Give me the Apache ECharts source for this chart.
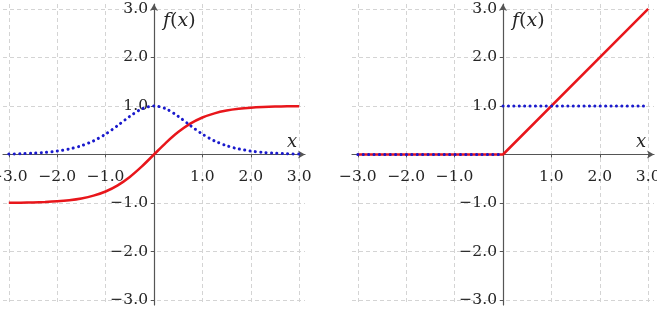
<!DOCTYPE html>
<html>
<head>
<meta charset="utf-8">
<script src="https://cdn.jsdelivr.net/npm/echarts@6/dist/echarts.min.js"></script>
<style>
  html, body { margin: 0; padding: 0; background: #fff; }
  #main { width: 657px; height: 314px; }
</style>
</head>
<body>
<div id="main"></div>
<script>
// tick positions on both axes, labels skip the origin
const tickValues = [-3, -2, -1, 0, 1, 2, 3];
const labelValues = [-3, -2, -1, 1, 2, 3];

// left panel: tanh and its derivative
const tanhX = [-3, -2.75, -2.5, -2.25, -2, -1.75, -1.5, -1.25, -1, -0.75, -0.5, -0.25, 0,
  0.25, 0.5, 0.75, 1, 1.25, 1.5, 1.75, 2, 2.25, 2.5, 2.75, 3];
const tanhY = [-0.995, -0.992, -0.987, -0.978, -0.964, -0.941, -0.905, -0.848, -0.762, -0.635, -0.462, -0.245, 0,
  0.245, 0.462, 0.635, 0.762, 0.848, 0.905, 0.941, 0.964, 0.978, 0.987, 0.992, 0.995];
const tanhGradY = [0.01, 0.016, 0.027, 0.043, 0.071, 0.115, 0.181, 0.281, 0.42, 0.597, 0.786, 0.94, 1,
  0.94, 0.786, 0.597, 0.42, 0.281, 0.181, 0.115, 0.071, 0.043, 0.027, 0.016, 0.01];

// right panel: ReLU and its derivative
const reluX = [-3, 0, 3];
const reluY = [0, 0, 3];
const reluGradX = [-3, 0, 0, 0, 3];
const reluGradY = [0, 0, null, 1, 1];

const font = 'DejaVu Serif';
const axisColor = '#555';
const textColor = '#262626';
const red = '#e8161b';
const blue = '#1a1acc';

const gridW = 302, gridH = 301;

const fmt = v => (v < 0 ? '\u2212' : '') + Math.abs(v).toFixed(1);
const zip = (xs, ys) => xs.map((x, i) => [x, ys[i]]);

function xAxisFor(gi) {
  return {
    type: 'value', gridIndex: gi, min: -3.12, max: 3.12,
    position: 'bottom', offset: -gridH / 2,
    name: 'x', nameLocation: 'end', nameGap: -13,
    nameTextStyle: { fontFamily: font, fontStyle: 'italic', fontSize: 18, color: textColor,
      align: 'center', verticalAlign: 'bottom', padding: [0, 0, 3, 0] },
    axisLine: { onZero: false, symbol: ['none', 'arrow'], symbolSize: [6, 7],
      lineStyle: { color: axisColor, width: 1.2 } },
    axisTick: { customValues: tickValues, length: 3, lineStyle: { color: axisColor } },
    axisLabel: { customValues: labelValues, formatter: fmt, fontFamily: font, fontSize: 15.5,
      color: textColor, margin: 14 },
    splitLine: { show: true, lineStyle: { type: [4, 3], color: '#d4d4d4', width: 1 } }
  };
}

function yAxisFor(gi) {
  return {
    type: 'value', gridIndex: gi, min: -3.1, max: 3.1,
    position: 'left', offset: -gridW / 2,
    name: '{i|f}{n|(}{i|x}{n|)}', nameLocation: 'end', nameGap: -8,
    nameTextStyle: { align: 'left', verticalAlign: 'top', padding: [0, 0, 0, 9],
      rich: {
        i: { fontFamily: font, fontStyle: 'italic', fontSize: 19, color: textColor },
        n: { fontFamily: font, fontSize: 19, color: textColor }
      } },
    axisLine: { onZero: false, symbol: ['none', 'arrow'], symbolSize: [6, 7],
      lineStyle: { color: axisColor, width: 1.2 } },
    axisTick: { customValues: tickValues, length: 3, lineStyle: { color: axisColor } },
    axisLabel: { customValues: labelValues, formatter: fmt, fontFamily: font, fontSize: 15.5,
      color: textColor, margin: 6 },
    splitLine: { show: true, lineStyle: { type: [4, 3], color: '#d4d4d4', width: 1 } }
  };
}

const solid = color => ({ color: color, width: 2.5 });
const dots = color => ({ color: color, width: 3, type: [0.1, 5.3], cap: 'round' });

const chart = echarts.init(document.getElementById('main'));
chart.setOption({
  animation: false,
  grid: [
    { left: 3, top: 4, width: gridW, height: gridH, outerBoundsMode: 'none', containLabel: false },
    { left: 352, top: 4, width: gridW, height: gridH, outerBoundsMode: 'none', containLabel: false }
  ],
  xAxis: [xAxisFor(0), xAxisFor(1)],
  yAxis: [yAxisFor(0), yAxisFor(1)],
  series: [
    { type: 'line', xAxisIndex: 0, yAxisIndex: 0, data: zip(tanhX, tanhY), smooth: 0.3,
      showSymbol: false, lineStyle: solid(red), z: 3 },
    { type: 'line', xAxisIndex: 0, yAxisIndex: 0, data: zip(tanhX, tanhGradY), smooth: 0.3,
      showSymbol: false, lineStyle: dots(blue), z: 4 },
    { type: 'line', xAxisIndex: 1, yAxisIndex: 1, data: zip(reluX, reluY),
      showSymbol: false, lineStyle: solid(red), z: 3 },
    { type: 'line', xAxisIndex: 1, yAxisIndex: 1, data: zip(reluGradX, reluGradY),
      connectNulls: false, showSymbol: false, lineStyle: dots(blue), z: 4 }
  ]
});
</script>
</body>
</html>
